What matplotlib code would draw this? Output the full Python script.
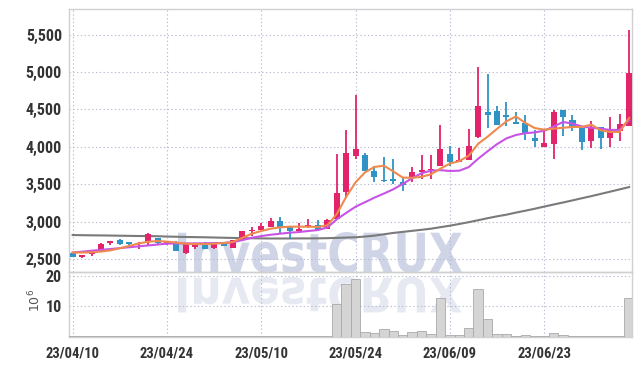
import matplotlib
matplotlib.use('Agg')
import matplotlib.pyplot as plt
from matplotlib.textpath import TextPath
from matplotlib.patches import PathPatch
from matplotlib.font_manager import FontProperties
from matplotlib.transforms import Affine2D
import numpy as np

# ---------------- data ----------------
tick_pos = [0, 10, 20, 30, 40, 50]
tick_labels = ['23/04/10', '23/04/24', '23/05/10', '23/05/24', '23/06/09', '23/06/23']

opens = [2586, 2531, 2563, 2612, 2720, 2752, 2711, 2698, 2725, 2783,
         2702, 2723, 2584, 2656, 2718, 2643, 2696, 2651, 2754, 2870,
         2884, 2925, 3004, 2924, 2876, 2924, 2956, 2906, 3031, 3393,
         3871, 3893, 3681, 3561, 3575, 3535, 3592, 3659, 3685, 3747,
         3897, 3795, 3822, 4126, 4466, 4479, 4426, 4325, 4316, 4117,
         4003, 4035, 4494, 4364, 4247, 4072, 4260, 4117, 4207, 4283]
highs = [2595, 2558, 2612, 2711, 2738, 2765, 2711, 2725, 2846, 2783,
         2729, 2734, 2698, 2711, 2722, 2700, 2705, 2760, 2880, 2928,
         2978, 3045, 3058, 2938, 2987, 3040, 3018, 3031, 3902, 4224,
         4697, 3915, 3747, 3857, 3835, 3592, 3729, 3888, 3888, 4290,
         4012, 3985, 4236, 5061, 4977, 4545, 4594, 4466, 4426, 4228,
         4220, 4490, 4494, 4418, 4247, 4350, 4260, 4395, 4431, 5554]
lows = [2523, 2509, 2540, 2608, 2684, 2684, 2666, 2630, 2684, 2689,
        2684, 2611, 2568, 2640, 2630, 2635, 2680, 2651, 2754, 2806,
        2884, 2925, 2853, 2773, 2876, 2920, 2871, 2906, 3020, 3309,
        3830, 3672, 3526, 3530, 3508, 3415, 3535, 3570, 3565, 3747,
        3738, 3795, 3822, 4120, 4250, 4294, 4281, 4303, 4091, 3994,
        4003, 3840, 4148, 4207, 3955, 3982, 3969, 4000, 4072, 4283]
closes = [2531, 2554, 2608, 2702, 2729, 2702, 2702, 2707, 2833, 2707,
          2711, 2611, 2696, 2696, 2634, 2696, 2678, 2754, 2874, 2887,
          2942, 3009, 2933, 2876, 2898, 2960, 2884, 3018, 3385, 3915,
          3968, 3672, 3592, 3539, 3539, 3490, 3663, 3694, 3703, 3972,
          3791, 3817, 4016, 4545, 4430, 4294, 4391, 4303, 4184, 4073,
          4056, 4470, 4404, 4269, 4058, 4247, 4117, 4238, 4305, 4992]

ma_short = [2586, 2586, 2590, 2599, 2615, 2644, 2675, 2707, 2730, 2740,
            2732, 2720, 2705, 2700, 2700, 2705, 2712, 2728, 2784, 2838,
            2874, 2905, 2923, 2932, 2932, 2932, 2928, 2950, 3100, 3330,
            3525, 3658, 3730, 3747, 3670, 3588, 3585, 3598, 3632, 3708,
            3775, 3808, 3880, 4040, 4135, 4240, 4340, 4405, 4318, 4250,
            4228, 4242, 4254, 4264, 4265, 4295, 4220, 4198, 4198, 4385]
ma_mid = [2586, 2598, 2610, 2622, 2633, 2645, 2657, 2669, 2681, 2693,
          2705, 2708, 2708, 2708, 2710, 2712, 2714, 2725, 2752, 2784,
          2806, 2824, 2838, 2851, 2860, 2874, 2887, 2920, 3030, 3115,
          3199, 3259, 3320, 3374, 3432, 3503, 3580, 3647, 3680, 3687,
          3676, 3680, 3728, 3840, 3940, 4035, 4112, 4157, 4181, 4192,
          4214, 4270, 4331, 4309, 4271, 4253, 4242, 4224, 4226, 4355]
ma_long = [2820, 2818, 2816, 2815, 2813, 2811, 2809, 2807, 2806, 2804,
           2800, 2797, 2794, 2792, 2790, 2787, 2784, 2781, 2779, 2777,
           2775, 2774, 2774, 2774, 2775, 2775, 2776, 2778, 2782, 2786,
           2790, 2800, 2812, 2830, 2848, 2862, 2876, 2890, 2905, 2925,
           2945, 2968, 2992, 3018, 3045, 3070, 3092, 3120, 3145, 3172,
           3200, 3228, 3255, 3283, 3312, 3340, 3370, 3400, 3430, 3461]

volume = [0.2, 0.1, 0.2, 0.3, 0.2, 0.2, 0.1, 0.1, 0.3, 0.2,
          0.1, 0.2, 0.2, 0.1, 0.1, 0.1, 0.1, 0.2, 0.3, 0.2,
          0.2, 0.2, 0.2, 0.1, 0.1, 0.1, 0.1, 0.2, 10.8, 17.3,
          19.1, 1.6, 1.3, 2.6, 2.0, 0.4, 1.6, 2.0, 1.0, 12.7,
          0.7, 0.7, 2.9, 15.7, 5.9, 1.0, 1.0, 0.2, 0.7, 0.3,
          0.3, 1.3, 0.7, 0.2, 0.1, 0.1, 0.1, 0.1, 0.1, 12.6]

price_ticks = [2500, 3000, 3500, 4000, 4500, 5000, 5500]
vol_ticks = [10, 20]

# ---------------- style ----------------
UP = '#e3236a'
DOWN = '#2f93c6'
GRID = '#b7bed3'
SPINE = '#d0d0d0'
tick_font = ['Liberation Sans Narrow', 'Roboto Condensed', 'DejaVu Sans']

W, H = 642, 366
fig = plt.figure(figsize=(W / 100, H / 100), dpi=100)
fig.patch.set_facecolor('white')

x_left, x_right = 69, 632
y_top, y_mid, y_bot = 9, 272, 336.7
ax = fig.add_axes([x_left / W, 1 - y_mid / H, (x_right - x_left) / W, (y_mid - y_top) / H])
ax2 = fig.add_axes([x_left / W, 1 - y_bot / H, (x_right - x_left) / W, (y_bot - y_mid) / H], sharex=ax)
for a in (ax, ax2):
    a.set_facecolor('none')
    for s in a.spines.values():
        s.set_color(SPINE)
        s.set_linewidth(1.0)
    a.grid(True, color=GRID, linestyle=(0, (1.2, 2.2)), linewidth=0.8)
    a.set_axisbelow(True)
    a.tick_params(length=0, colors='#333333')

x = np.arange(len(opens))
o = np.array(opens); c = np.array(closes); h = np.array(highs); l = np.array(lows)
up = c >= o
cols = np.where(up, UP, DOWN)
ax.vlines(x, l, h, colors=cols, linewidth=1.3, zorder=3)
body_bottom = np.minimum(o, c)
body_h = np.maximum(np.abs(c - o), 22)
ax.bar(x, body_h, bottom=body_bottom, width=0.64, color=cols, linewidth=0, zorder=4)

ax.plot(x, ma_long, color='#7a7a7a', linewidth=1.5, zorder=2.5)
ax.plot(x, ma_mid, color='#c853e6', linewidth=1.5, zorder=5)
ax.plot(x, ma_short, color='#ee8a4e', linewidth=1.5, zorder=5)

ax.set_xlim(-0.39, 59.31)
ax.set_ylim(2326, 5841)
ax.set_yticks(price_ticks)
ax.set_yticklabels([f'{v:,}' for v in price_ticks], family=tick_font,
                   fontsize=11.5, fontweight='bold', color='#333333')
ax.tick_params(axis='y', pad=5)
ax.tick_params(axis='x', labelbottom=False)

ax2.bar(x, volume, width=1.0, color='#d5d5d5', edgecolor='#a9a9a9', linewidth=0.6, zorder=3)
ax2.set_ylim(0, 21.3)
ax2.set_yticks(vol_ticks)
ax2.set_yticklabels([str(v) for v in vol_ticks], family=tick_font,
                    fontsize=11.5, fontweight='bold', color='#333333')
ax2.tick_params(axis='y', pad=5)
ax2.set_xticks(tick_pos)
ax2.set_xticklabels(tick_labels, family=tick_font, fontsize=10.5,
                    fontweight='bold', color='#333333')
ax2.tick_params(axis='x', pad=7)

fig.text(35 / W, 1 - 300 / H, r'$10^6$', rotation=90, fontsize=9,
         color='#555555', ha='center', va='center')

# watermark with reflection
fp = FontProperties(family='DejaVu Sans', weight='bold')
tp = TextPath((0, 0), 'InvestCRUX', size=100, prop=fp)
bb = tp.get_extents()
tw, th = 284, 41
sx, sy = tw / bb.width, th / bb.height
t_main = Affine2D().translate(-bb.x0, -bb.y0).scale(sx, sy).translate(178, H - 273)
fig.add_artist(PathPatch(tp, transform=t_main, facecolor='#c7cee2', edgecolor='none',
                         alpha=0.85, zorder=-1))
t_ref = Affine2D().translate(-bb.x0, -bb.y0).scale(sx, -sy * 0.88).translate(178, H - 277)
fig.add_artist(PathPatch(tp, transform=t_ref, facecolor='#e4e7f0', edgecolor='none',
                         alpha=0.9, zorder=-1))

fig.savefig('out.png', dpi=100, facecolor='white')
